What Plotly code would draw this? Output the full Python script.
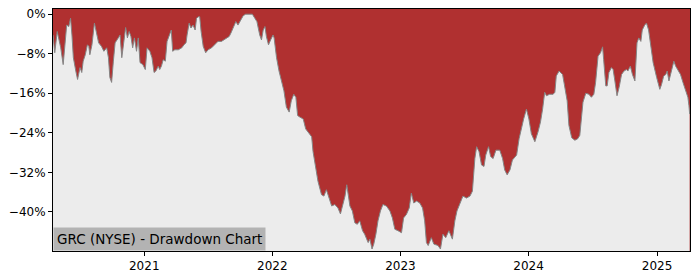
import plotly.graph_objects as go

dates = [
    "2020-04-16", "2020-04-21", "2020-04-28", "2020-05-04", "2020-05-08", "2020-05-15", "2020-05-21", "2020-05-25",
    "2020-05-31", "2020-06-05", "2020-06-09", "2020-06-13", "2020-06-20", "2020-06-25", "2020-07-02", "2020-07-07",
    "2020-07-11", "2020-07-17", "2020-07-23", "2020-07-27", "2020-07-30", "2020-08-05", "2020-08-12", "2020-08-18",
    "2020-08-24", "2020-09-01", "2020-09-08", "2020-09-16", "2020-09-21", "2020-09-25", "2020-09-30", "2020-10-05",
    "2020-10-10", "2020-10-19", "2020-10-24", "2020-10-29", "2020-11-04", "2020-11-09", "2020-11-14", "2020-11-19",
    "2020-11-24", "2020-11-29", "2020-12-04", "2020-12-10", "2020-12-15", "2020-12-20", "2020-12-28",
    "2021-01-04", "2021-01-09", "2021-01-17", "2021-01-23", "2021-01-29", "2021-02-03", "2021-02-10", "2021-02-14",
    "2021-02-19", "2021-02-24", "2021-03-02", "2021-03-07", "2021-03-13", "2021-03-19", "2021-03-23", "2021-03-29",
    "2021-04-08", "2021-04-18", "2021-04-24", "2021-04-30", "2021-05-03", "2021-05-09", "2021-05-14", "2021-05-20",
    "2021-05-26", "2021-05-30", "2021-06-05", "2021-06-08", "2021-06-12", "2021-06-18", "2021-06-25", "2021-07-02",
    "2021-07-12", "2021-07-21", "2021-07-30", "2021-08-09", "2021-08-16", "2021-08-23", "2021-08-31", "2021-09-05",
    "2021-09-11", "2021-09-19", "2021-09-25", "2021-10-02", "2021-10-10", "2021-10-17", "2021-10-29", "2021-11-05",
    "2021-11-12", "2021-11-18", "2021-11-26", "2021-12-01", "2021-12-06", "2021-12-11", "2021-12-15", "2021-12-21",
    "2021-12-27", "2022-01-03", "2022-01-06", "2022-01-13", "2022-01-20", "2022-01-27", "2022-02-03", "2022-02-10",
    "2022-02-18", "2022-02-24", "2022-03-03", "2022-03-09", "2022-03-14", "2022-03-20", "2022-03-30", "2022-04-06",
    "2022-04-18", "2022-04-23", "2022-04-27", "2022-05-05", "2022-05-11", "2022-05-21", "2022-05-28", "2022-06-04",
    "2022-06-12", "2022-06-19", "2022-06-28", "2022-07-07", "2022-07-14", "2022-07-20", "2022-07-27", "2022-08-01",
    "2022-08-05", "2022-08-10", "2022-08-17", "2022-08-24", "2022-08-31", "2022-09-07", "2022-09-15", "2022-09-21",
    "2022-10-01", "2022-10-06", "2022-10-12", "2022-10-17", "2022-10-23", "2022-10-29", "2022-11-05", "2022-11-12",
    "2022-11-22", "2022-12-02", "2022-12-09", "2022-12-16", "2022-12-25", "2023-01-04", "2023-01-10", "2023-01-18",
    "2023-01-26", "2023-02-01", "2023-02-08", "2023-02-16", "2023-02-25", "2023-03-05", "2023-03-11", "2023-03-16",
    "2023-03-21", "2023-03-30", "2023-04-06", "2023-04-18", "2023-04-25", "2023-05-02", "2023-05-10", "2023-05-19",
    "2023-05-29", "2023-06-05", "2023-06-11", "2023-06-19", "2023-06-28", "2023-07-08", "2023-07-18", "2023-07-25",
    "2023-08-01", "2023-08-06", "2023-08-13", "2023-08-20", "2023-08-27", "2023-09-01", "2023-09-09", "2023-09-15",
    "2023-09-22", "2023-09-30", "2023-10-11", "2023-10-19", "2023-10-25", "2023-11-01", "2023-11-09", "2023-11-16",
    "2023-11-28", "2023-12-05", "2023-12-12", "2023-12-18", "2023-12-26", "2024-01-02", "2024-01-09", "2024-01-19",
    "2024-01-28", "2024-02-04", "2024-02-10", "2024-02-16", "2024-02-21", "2024-03-01", "2024-03-11", "2024-03-16",
    "2024-03-20", "2024-03-28", "2024-04-07", "2024-04-13", "2024-04-20", "2024-04-25", "2024-05-03", "2024-05-12",
    "2024-05-20", "2024-05-26", "2024-05-30", "2024-06-04", "2024-06-12", "2024-06-21", "2024-06-28", "2024-07-05",
    "2024-07-10", "2024-07-17", "2024-07-24", "2024-07-30", "2024-08-02", "2024-08-08", "2024-08-12", "2024-08-17",
    "2024-08-24", "2024-08-29", "2024-09-03", "2024-09-09", "2024-09-15", "2024-09-22", "2024-09-29", "2024-10-06",
    "2024-10-10", "2024-10-17", "2024-10-23", "2024-10-30", "2024-11-05", "2024-11-10", "2024-11-16", "2024-11-20",
    "2024-11-27", "2024-12-02", "2024-12-08", "2024-12-13", "2024-12-21", "2024-12-31", "2025-01-09", "2025-01-14",
    "2025-01-20", "2025-01-26", "2025-01-30", "2025-02-04", "2025-02-11", "2025-02-18", "2025-02-23", "2025-03-02",
    "2025-03-09", "2025-03-16", "2025-03-24", "2025-03-30", "2025-04-02", "2025-04-04",
]

drawdown_pct = [
    -4.2, -7.8, -3.5, -5.5, -6.8, -10.2, -4.2, -2.2,
    -2.5, -0.8, -4.2, -8.8, -11.5, -13.2, -10.8, -11.8,
    -9.5, -8.2, -6.2, -6.5, -8.2, -6.2, -1.8, -3.5,
    -5.8, -6.5, -7.5, -6.8, -8.8, -12.8, -13.8, -9.5,
    -5.8, -4.8, -4.2, -8.8, -6.0, -2.7, -4.8, -3.5,
    -4.5, -6.8, -4.8, -7.5, -4.8, -9.8, -10.2,
    -11.2, -6.8, -7.5, -8.8, -11.8, -11.5, -10.5, -11.2,
    -10.5, -9.2, -9.5, -5.5, -4.2, -3.2, -7.5, -7.2,
    -7.2, -6.8, -6.2, -5.8, -4.2, -1.8, -2.8, -2.2,
    -3.2, -0.8, -0.5, -0.5, -3.5, -6.5, -7.8, -7.2,
    -6.8, -6.2, -5.5, -5.5, -5.2, -4.8, -4.5, -3.8,
    -2.8, -1.5, -2.2, -1.2, -0.3, 0.0, 0.0, 0.0,
    -0.8, -1.5, -4.2, -5.2, -3.2, -2.5, -4.5, -6.2,
    -5.2, -4.2, -4.8, -8.8, -11.5, -13.5, -15.5, -18.8,
    -19.8, -17.5, -16.2, -16.8, -20.5, -20.8, -21.2, -23.2,
    -24.5, -24.8, -27.8, -31.2, -33.8, -36.5, -36.8, -35.5,
    -37.2, -38.8, -38.5, -39.2, -40.4, -38.5, -36.8, -34.5,
    -36.8, -38.8, -39.8, -42.2, -42.5, -41.8, -43.8, -44.5,
    -46.2, -45.5, -47.5, -46.5, -44.5, -41.8, -39.8, -38.5,
    -38.8, -39.8, -41.2, -43.5, -43.8, -44.2, -41.2, -40.5,
    -39.2, -36.2, -38.2, -37.8, -38.2, -39.2, -41.8, -46.2,
    -46.8, -45.2, -46.5, -46.8, -47.5, -44.5, -45.2, -43.8,
    -45.5, -41.8, -39.8, -38.5, -36.8, -37.2, -36.8, -35.8,
    -29.2, -26.8, -27.8, -30.5, -30.8, -28.5, -26.8, -28.8,
    -29.2, -27.5, -27.5, -29.2, -31.5, -32.5, -31.5, -29.5,
    -28.5, -25.2, -22.8, -21.2, -19.2, -21.2, -24.2, -25.8,
    -23.8, -21.8, -19.2, -15.8, -16.5, -16.2, -16.2, -15.8,
    -12.5, -11.5, -12.2, -14.5, -17.5, -22.5, -25.0, -25.5,
    -25.2, -24.5, -21.0, -17.8, -16.0, -16.2, -16.8, -16.2,
    -13.8, -8.5, -7.8, -6.6, -9.2, -14.5, -14.5, -11.8,
    -10.8, -11.2, -13.5, -16.5, -14.8, -12.2, -11.5, -11.2,
    -11.5, -10.5, -12.2, -13.5, -5.8, -4.8, -5.5, -3.2,
    -2.2, -1.8, -3.2, -5.8, -9.8, -12.8, -15.2, -14.2,
    -12.5, -12.2, -11.5, -13.5, -11.5, -9.5, -10.5, -11.5,
    -12.2, -13.8, -15.8, -16.8, -18.5, -20.2,
]

y_tick_values = [0, -8, -16, -24, -32, -40]
y_tick_labels = ["0%", "\u22128%", "\u221216%", "\u221224%", "\u221232%", "\u221240%"]
x_tick_values = ["2021-01-01", "2022-01-01", "2023-01-01", "2024-01-01", "2025-01-01"]
x_tick_labels = ["2021", "2022", "2023", "2024", "2025"]
chart_label = "GRC (NYSE) - Drawdown Chart"

Y_MIN, Y_MAX = -47.9, 1.05
RED = "#b03030"
LIGHT = "#ececec"

fig = go.Figure()
# Light area below the drawdown curve, down to (past) the axis floor
fig.add_trace(go.Scatter(
    x=dates, y=[Y_MIN - 2] * len(dates), mode="lines",
    line=dict(width=0, color=LIGHT), hoverinfo="skip", showlegend=False,
))
fig.add_trace(go.Scatter(
    x=dates, y=drawdown_pct, mode="lines", fill="tonexty",
    fillcolor=LIGHT, line=dict(color="#858585", width=1),
    hoverinfo="skip", showlegend=False,
))

font_family = "DejaVu Sans"
fig.update_layout(
    width=700, height=280,
    margin=dict(l=53, r=10, t=7, b=28),
    paper_bgcolor="white", plot_bgcolor=RED,
    font=dict(family=font_family, size=12, color="black"),
    showlegend=False,
    xaxis=dict(
        type="date", range=["2020-04-16", "2025-04-05"],
        tickvals=x_tick_values, ticktext=x_tick_labels,
        ticks="outside", ticklen=4, tickcolor="black", tickwidth=1,
        showgrid=False, zeroline=False,
        showline=True, linecolor="black", linewidth=1, mirror=True,
        tickfont=dict(size=12),
    ),
    yaxis=dict(
        range=[Y_MIN, Y_MAX],
        tickvals=y_tick_values, ticktext=y_tick_labels,
        ticks="outside", ticklen=4, tickcolor="black", tickwidth=1,
        showgrid=False, zeroline=False,
        showline=True, linecolor="black", linewidth=1, mirror=True,
        tickfont=dict(size=12),
    ),
    annotations=[dict(
        text=chart_label, xref="paper", yref="paper", x=0, y=0,
        xanchor="left", yanchor="bottom", showarrow=False,
        bgcolor="#b3b3b3", borderpad=3,
        font=dict(family=font_family, size=13.5, color="black"),
    )],
)

fig.write_html("out.html")
